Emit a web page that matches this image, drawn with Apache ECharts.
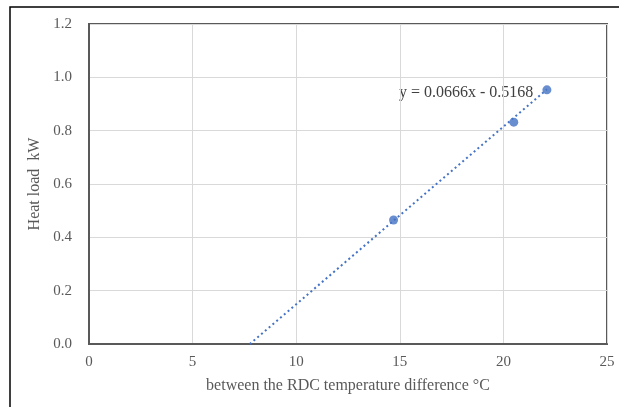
<!DOCTYPE html>
<html><head><meta charset="utf-8">
<script src="https://cdn.jsdelivr.net/npm/echarts@6/dist/echarts.min.js"></script>
<style>html,body{margin:0;padding:0;background:#fff}#c{width:619px;height:407px}</style>
</head><body><div id="c"></div>
<script>
var tempDiff = [14.7, 20.5, 22.1];
var heatLoad = [0.465, 0.832, 0.953];
var trendX = [7.76, 22.1];
var trendY = [0.0, 0.955];
var equationText = 'y = 0.0666x - 0.5168';
var xTicks = [0, 5, 10, 15, 20, 25];
var yTicks = [0.0, 0.2, 0.4, 0.6, 0.8, 1.0, 1.2];

var font = '"Liberation Serif", "Times New Roman", serif';
var chart = echarts.init(document.getElementById('c'), null, {renderer: 'canvas'});
chart.setOption({
  animation: false,
  backgroundColor: '#fff',
  graphic: [
    {type: 'rect', shape: {x: 10, y: 7, width: 640, height: 440}, style: {fill: 'none', stroke: '#000', lineWidth: 1.5}, silent: true},
    {type: 'text', left: 399, top: 85, style: {text: equationText, font: '16px ' + font, fill: '#404040'}}
  ],
  grid: {left: 89, right: 12, top: 24, bottom: 63, show: true, borderColor: '#595959', borderWidth: 2, backgroundColor: 'transparent'},
  xAxis: {
    type: 'value', min: xTicks[0], max: xTicks[xTicks.length - 1], interval: 5,
    name: 'between the RDC temperature difference \u00B0C', nameLocation: 'middle', nameGap: 34,
    nameTextStyle: {fontFamily: font, fontSize: 16, color: '#595959'},
    axisLine: {show: true, lineStyle: {color: '#595959', width: 2}},
    axisTick: {show: false},
    axisLabel: {fontFamily: font, fontSize: 15, color: '#595959', margin: 11},
    splitLine: {show: true, lineStyle: {color: '#d9d9d9', width: 1}}
  },
  yAxis: {
    type: 'value', min: 0, max: 1.2, interval: 0.2,
    name: 'Heat load  kW', nameLocation: 'middle', nameGap: 39,
    nameTextStyle: {fontFamily: font, fontSize: 16, color: '#595959'},
    axisLine: {show: true, lineStyle: {color: '#595959', width: 2}},
    axisTick: {show: false},
    axisLabel: {fontFamily: font, fontSize: 15, color: '#595959', margin: 17, formatter: function (v) { return v.toFixed(1); }},
    splitLine: {show: true, lineStyle: {color: '#d9d9d9', width: 1}}
  },
  series: [
    {
      type: 'line', data: trendX.map(function (x, i) { return [x, trendY[i]]; }),
      symbol: 'none', lineStyle: {color: '#4472C4', width: 2, type: [2, 3]}, silent: true, z: 2
    },
    {
      type: 'scatter', data: tempDiff.map(function (x, i) { return [x, heatLoad[i]]; }),
      symbol: 'circle', symbolSize: 9, itemStyle: {color: '#4472C4'}, z: 3
    }
  ]
});
</script></body></html>
